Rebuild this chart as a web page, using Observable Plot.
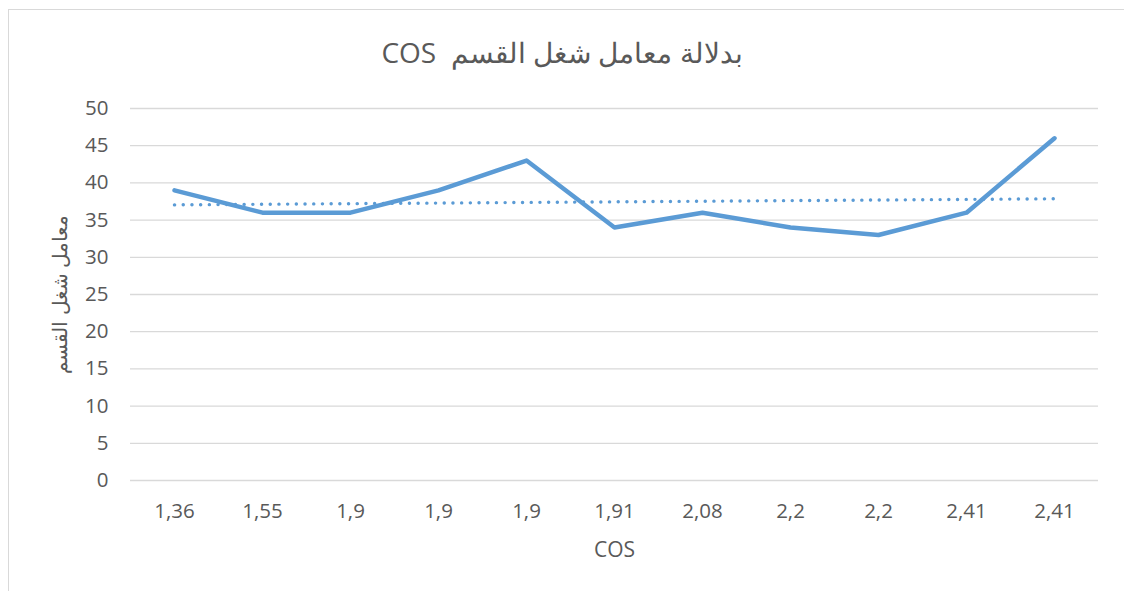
<!DOCTYPE html>
<html>
<head>
<meta charset="utf-8">
<script src="https://cdn.jsdelivr.net/npm/d3@7"></script>
<script src="https://cdn.jsdelivr.net/npm/@observablehq/plot@0.6"></script>
<style>
  html, body { margin: 0; padding: 0; background: #fff; overflow: hidden; }
  #wrap { position: relative; width: 1124px; height: 591px; overflow: hidden; }
  #frame { position: absolute; left: 8px; top: 9px; width: 1130px; height: 600px; border: 1px solid #d9d9d9; box-sizing: border-box; }
  #title { position: absolute; left: 0; top: 32px; width: 1124px; text-align: center; font-family: "Open Sans", sans-serif; font-size: 28px; color: #595959; line-height: 40px; }
  #chart { position: absolute; left: 0; top: 90px; }
</style>
</head>
<body>
<div id="wrap">
  <div id="frame"></div>
  <div id="title" dir="rtl">بدلالة معامل شغل القسم&nbsp; COS</div>
  <div id="chart"></div>
</div>
<script>
const categories = ["1,36", "1,55", "1,9", "1,9", "1,9", "1,91", "2,08", "2,2", "2,2", "2,41", "2,41"];
const values = [39, 36, 36, 39, 43, 34, 36, 34, 33, 36, 46];
const yTicks = [0, 5, 10, 15, 20, 25, 30, 35, 40, 45, 50];
const xLabel = "COS";
const yLabel = "معامل شغل القسم";

const data = values.map((v, i) => ({i, v, cat: categories[i]}));
const color = "#5B9BD5";
const textColor = "#595959";

const plot = Plot.plot({
  width: 1124,
  height: 501,
  marginLeft: 130,
  marginRight: 26,
  marginTop: 18,
  marginBottom: 111,
  style: {fontFamily: "'Open Sans', sans-serif", fontSize: "20.5px", color: textColor, background: "transparent"},
  x: {domain: [-0.5, categories.length - 0.5]},
  y: {domain: [0, 50]},
  marks: [
    Plot.ruleY(yTicks, {stroke: "#d9d9d9", strokeWidth: 1.3}),
    Plot.axisY({ticks: yTicks, tickSize: 0, tickPadding: 22, label: null, fill: textColor}),
    Plot.text([yLabel], {frameAnchor: "left", textAnchor: "middle", dx: -70, rotate: -90, fontSize: 20, fill: textColor}),
    Plot.axisX({ticks: d3.range(categories.length), tickFormat: i => categories[i], tickSize: 0, tickPadding: 23, label: null, fill: textColor}),
    Plot.text([xLabel], {frameAnchor: "bottom", dy: 76, fontSize: 21, fill: textColor}),
    Plot.linearRegressionY(data, {x: "i", y: "v", ci: 0, stroke: color, strokeWidth: 3.4, strokeDasharray: "0.1 8.6", strokeLinecap: "round"}),
    Plot.line(data, {x: "i", y: "v", stroke: color, strokeWidth: 4.5, strokeLinecap: "round", strokeLinejoin: "round"})
  ]
});
document.getElementById("chart").appendChild(plot);
</script>
</body>
</html>
